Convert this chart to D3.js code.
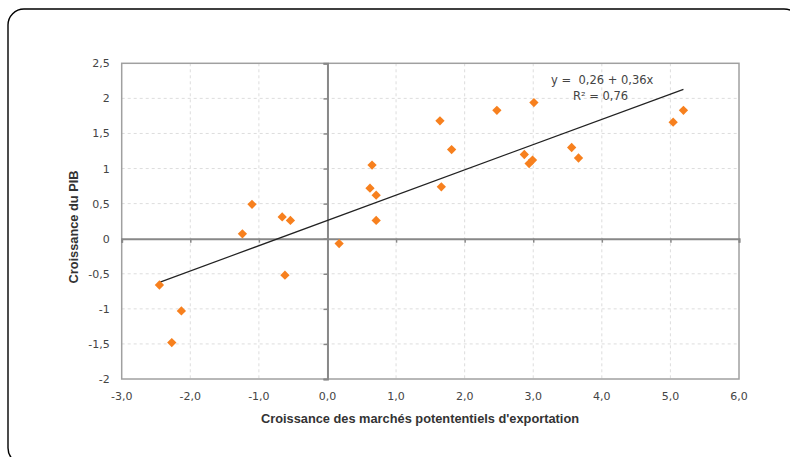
<!DOCTYPE html>
<html><head><meta charset="utf-8">
<script src="https://cdn.jsdelivr.net/npm/d3@7"></script>
<style>body{margin:0;background:#fff;}svg{display:block;}</style>
</head><body>
<script>
const xVals = [-2.45,-2.27,-2.13,-1.24,-1.10,-0.66,-0.62,-0.54,0.17,0.62,0.65,0.71,0.71,1.64,1.66,1.81,2.47,2.87,2.94,2.99,3.01,3.56,3.66,5.04,5.19];
const yVals = [-0.66,-1.48,-1.03,0.07,0.49,0.31,-0.52,0.26,-0.07,0.72,1.05,0.62,0.26,1.68,0.74,1.27,1.83,1.20,1.07,1.12,1.94,1.30,1.15,1.66,1.83];
const xTicks = [-3,-2,-1,0,1,2,3,4,5,6];
const yTicks = [-2,-1.5,-1,-0.5,0,0.5,1,1.5,2,2.5];
const intercept = 0.26, slope = 0.36;
const eqLabel = "y =  0,26 + 0,36x";
const r2Label = "R² = 0,76";
const xTitle = "Croissance des marchés potententiels d'exportation";
const yTitle = "Croissance du PIB";

const W = 790, H = 457;
const svg = d3.select("body").append("svg").attr("width", W).attr("height", H);
svg.append("rect").attr("x",8).attr("y",9).attr("width",792).attr("height",455)
  .attr("rx",16).attr("fill","none").attr("stroke","#000").attr("stroke-width",1.4);

const L=121.7, R=739, T=63.3, B=379;
const x = d3.scaleLinear().domain([-3,6]).range([L,R]);
const y = d3.scaleLinear().domain([-2,2.5]).range([B,T]);
const fmt = v => d3.format(".1f")(v).replace(".",",").replace("−","-");
const fmtY = v => String(v).replace(".",",");

const g = svg.append("g");
// grid
g.selectAll(".vg").data(xTicks.filter(d=>d!==-3&&d!==6&&d!==0)).join("line")
  .attr("x1",d=>x(d)).attr("x2",d=>x(d)).attr("y1",T).attr("y2",B)
  .attr("stroke","#ddd").attr("stroke-dasharray","3,3").attr("stroke-width",1);
g.selectAll(".hg").data(yTicks.filter(d=>d!==-2&&d!==2.5&&d!==0)).join("line")
  .attr("x1",L).attr("x2",R).attr("y1",d=>y(d)).attr("y2",d=>y(d))
  .attr("stroke","#ddd").attr("stroke-dasharray","3,3").attr("stroke-width",1);
// border
g.append("rect").attr("x",L).attr("y",T).attr("width",R-L).attr("height",B-T)
  .attr("fill","none").attr("stroke","#a0a0a0").attr("stroke-width",1.5);
// zero axes
const xAxis = d3.axisBottom(x).tickValues(xTicks).tickSize(4).tickFormat("");
const ax = g.append("g").attr("transform",`translate(0,${y(0)})`).call(xAxis);
ax.select(".domain").attr("stroke","#888").attr("stroke-width",2);
ax.selectAll(".tick line").attr("stroke","#888").attr("stroke-width",1.5);
const yAxis = d3.axisLeft(y).tickValues(yTicks).tickSize(4).tickFormat("");
const ay = g.append("g").attr("transform",`translate(${x(0)},0)`).call(yAxis);
ay.select(".domain").attr("stroke","#888").attr("stroke-width",2);
ay.selectAll(".tick line").attr("stroke","#888").attr("stroke-width",1.5);

// tick labels
const font = "'DejaVu Sans', sans-serif";
svg.selectAll(".xl").data(xTicks).join("text")
  .attr("x",d=>x(d)).attr("y",B+21).attr("text-anchor","middle")
  .attr("font-family",font).attr("font-size",11).attr("fill","#444")
  .text(d=>fmt(d));
svg.selectAll(".yl").data(yTicks).join("text")
  .attr("x",L-12).attr("y",d=>y(d)+4).attr("text-anchor","end")
  .attr("font-family",font).attr("font-size",11).attr("fill","#444")
  .text(d=>fmtY(d));

// titles
svg.append("text").attr("x",420).attr("y",423).attr("text-anchor","middle")
  .attr("font-family","'Liberation Sans', Arial, sans-serif").attr("font-weight","bold")
  .attr("font-size",12.8).attr("fill","#333").text(xTitle);
svg.append("text").attr("transform","translate(78,227) rotate(-90)").attr("text-anchor","middle")
  .attr("font-family","'Liberation Sans', Arial, sans-serif").attr("font-weight","bold")
  .attr("font-size",12.8).attr("fill","#333").text(yTitle);

// trend line
const xmin = d3.min(xVals), xmax = d3.max(xVals);
svg.append("line").attr("x1",x(xmin)).attr("y1",y(intercept+slope*xmin))
  .attr("x2",x(xmax)).attr("y2",y(intercept+slope*xmax))
  .attr("stroke","#222").attr("stroke-width",1.2);

// points
const sym = d3.symbol().type(d3.symbolDiamond2).size(55);
svg.selectAll(".pt").data(xVals.map((v,i)=>[v,yVals[i]])).join("path")
  .attr("d",sym).attr("transform",d=>`translate(${x(d[0])},${y(d[1])})`)
  .attr("fill","#f7801e");

// equation
svg.append("text").attr("x",551).attr("y",84).attr("font-family",font)
  .attr("font-size",11.5).attr("fill","#444").style("white-space","pre").text(eqLabel);
svg.append("text").attr("x",573).attr("y",100).attr("font-family",font)
  .attr("font-size",11.5).attr("fill","#444").text(r2Label);
</script>
</body></html>
